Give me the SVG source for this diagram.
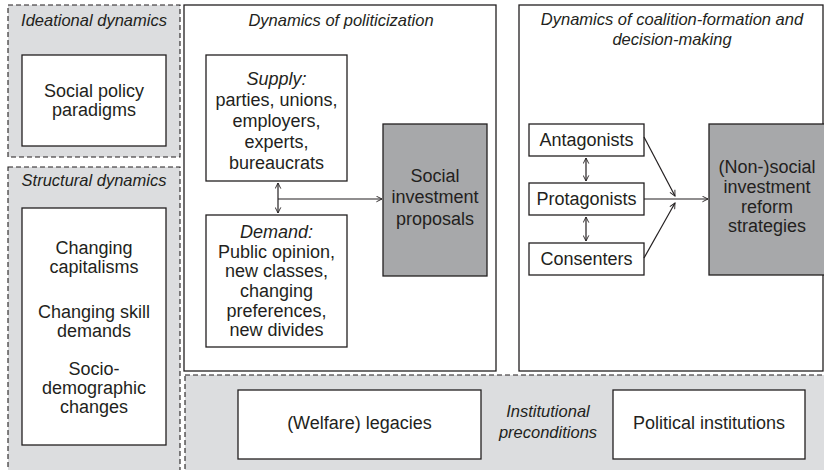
<svg xmlns="http://www.w3.org/2000/svg" width="824" height="470" viewBox="0 0 824 470">
<defs>
<marker id="ah" viewBox="0 0 10 10" refX="9" refY="5" markerWidth="7" markerHeight="7" orient="auto-start-reverse" markerUnits="userSpaceOnUse">
<path d="M1,1 L9,5 L1,9" fill="none" stroke="#231f20" stroke-width="1.3"/>
</marker>
<style>
.zone{fill:#dcdddf;stroke:#231f20;stroke-width:1.1;stroke-dasharray:5,3}
.frame{fill:#ffffff;stroke:#231f20;stroke-width:1.3}
.box{fill:#ffffff;stroke:#231f20;stroke-width:1.3}
.dark{fill:#a7a8aa;stroke:#231f20;stroke-width:1.3}
text{font-family:"Liberation Sans",Arial,sans-serif;font-size:18px;fill:#231f20;text-anchor:middle}
.it{font-style:italic;font-size:16.5px}
.conn{fill:none;stroke:#231f20;stroke-width:1.2}
</style>
</defs>
<rect width="824" height="470" fill="#ffffff"/>

<g id="ideational">
<rect class="zone" x="8" y="5" width="172" height="152"/>
<text class="it" x="94" y="26">Ideational dynamics</text>
<rect class="box" x="22" y="55" width="144" height="91"/>
<text x="94" y="97">Social policy</text>
<text x="94" y="116">paradigms</text>
</g>

<g id="structural">
<rect class="zone" x="8" y="167" width="172" height="310"/>
<text class="it" x="94" y="186">Structural dynamics</text>
<rect class="box" x="22" y="208" width="144" height="237"/>
<text x="94" y="254">Changing</text>
<text x="94" y="273">capitalisms</text>
<text x="94" y="318">Changing skill</text>
<text x="94" y="337">demands</text>
<text x="94" y="375">Socio-</text>
<text x="94" y="394">demographic</text>
<text x="94" y="413">changes</text>
</g>

<g id="institutional">
<rect class="zone" x="185" y="375" width="645" height="102"/>
<rect class="box" x="238" y="390" width="243" height="69"/>
<text x="359.5" y="429">(Welfare) legacies</text>
<text class="it" x="548" y="417">Institutional</text>
<text class="it" x="548" y="438">preconditions</text>
<rect class="box" x="613" y="390" width="192" height="69"/>
<text x="709" y="429">Political institutions</text>
</g>

<g id="politicization">
<rect class="frame" x="184" y="5" width="312" height="366"/>
<text class="it" x="341" y="26">Dynamics of politicization</text>
</g>

<g id="supply">
<rect class="box" x="206" y="55" width="141" height="126"/>
<text x="276.5" y="85"><tspan font-style="italic">Supply:</tspan></text>
<text x="276.5" y="106">parties, unions,</text>
<text x="276.5" y="127">employers,</text>
<text x="276.5" y="148">experts,</text>
<text x="276.5" y="169">bureaucrats</text>
</g>

<g id="demand">
<rect class="box" x="206" y="215" width="141" height="132"/>
<text x="276.5" y="238"><tspan font-style="italic">Demand:</tspan></text>
<text x="276.5" y="258">Public opinion,</text>
<text x="276.5" y="277">new classes,</text>
<text x="276.5" y="297">changing</text>
<text x="276.5" y="317">preferences,</text>
<text x="276.5" y="336">new divides</text>
</g>

<g id="proposals">
<rect class="dark" x="383" y="124" width="104" height="152"/>
<text x="435" y="182">Social</text>
<text x="435" y="203">investment</text>
<text x="435" y="225">proposals</text>
</g>

<g id="coalition">
<rect class="frame" x="519" y="5" width="304" height="366"/>
<text class="it" x="672" y="25">Dynamics of coalition-formation and</text>
<text class="it" x="672" y="45">decision-making</text>
</g>

<g id="antagonists">
<rect class="box" x="529" y="124" width="115" height="32"/>
<text x="586.5" y="146">Antagonists</text>
</g>
<g id="protagonists">
<rect class="box" x="529" y="183" width="115" height="32"/>
<text x="586.5" y="205">Protagonists</text>
</g>
<g id="consenters">
<rect class="box" x="529" y="243" width="115" height="32"/>
<text x="586.5" y="265">Consenters</text>
</g>

<g id="strategies">
<rect class="dark" x="709" y="124" width="116" height="151"/>
<text x="767" y="173">(Non-)social</text>
<text x="767" y="193">investment</text>
<text x="767" y="213">reform</text>
<text x="767" y="232">strategies</text>
</g>

<g id="connectors">
<line class="conn" x1="278" y1="183" x2="278" y2="213" marker-start="url(#ah)" marker-end="url(#ah)"/>
<line class="conn" x1="278" y1="199" x2="382" y2="199" marker-end="url(#ah)"/>
<line class="conn" x1="586" y1="158" x2="586" y2="181" marker-start="url(#ah)" marker-end="url(#ah)"/>
<line class="conn" x1="586" y1="217" x2="586" y2="241" marker-start="url(#ah)" marker-end="url(#ah)"/>
<line class="conn" x1="644" y1="137" x2="675" y2="196" marker-end="url(#ah)"/>
<line class="conn" x1="644" y1="258" x2="675" y2="203" marker-end="url(#ah)"/>
<line class="conn" x1="644" y1="199" x2="708" y2="199" marker-end="url(#ah)"/>
</g>
</svg>
